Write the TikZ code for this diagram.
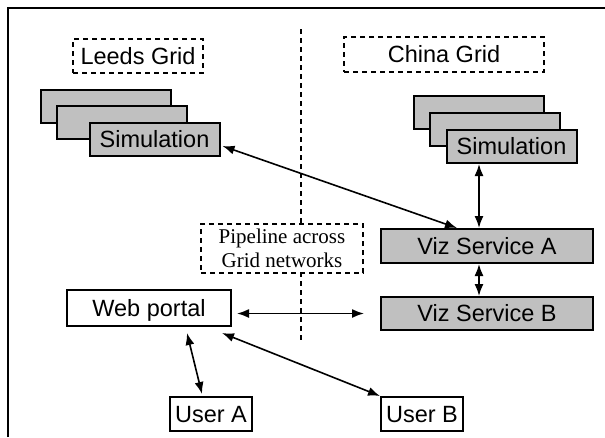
\documentclass[tikz,border=0pt]{standalone}
\usepackage{fontspec}
\setmainfont{Liberation Sans}
\newfontfamily\pipefont{Liberation Serif}
\usetikzlibrary{arrows.meta}

\definecolor{simgray}{RGB}{192,192,192}
\tikzset{
    boxtext/.style={font=\fontsize{23.5}{27}\selectfont, inner sep=0pt, text height=16.8pt, text depth=0pt},
    gridline/.style={line width=1.1pt, dash pattern=on 5pt off 4pt},
    gridlabel/.style={gridline, draw, boxtext},
    plainbox/.style={draw, line width=2pt, boxtext},
    simbox/.style={plainbox, fill=simgray, minimum width=130pt, minimum height=33pt},
    vizbox/.style={plainbox, fill=simgray, minimum width=212pt, minimum height=34pt},
}

\begin{document}
\begin{tikzpicture}[x=1pt, y=-1pt, >={Latex[length=12pt,width=9pt]}]
\useasboundingbox (0,0) rectangle (605,437);
\draw[line width=2.5pt] (8,437) -- (8,8) -- (605,8);

% dividing line between the two grids
\coordinate (divtop) at (301,29);
\coordinate (divbot) at (301,342);
\draw[gridline] (divtop) -- (divbot);
\node[gridlabel, minimum width=130pt, minimum height=34pt] (leeds) at (138,56) {Leeds Grid};
\node[gridlabel, minimum width=200pt, minimum height=35pt] (china) at (444,54.5) {China Grid};
\node[gridlabel, fill=white, minimum width=162pt, minimum height=49pt, text height=, text depth=,
      font=\pipefont\fontsize{21}{24}\selectfont, align=center] (pipe) at (282,248.5)
      {Pipeline across\\Grid networks};

% simulation stacks
\foreach \n/\x/\y in {lsim1/106/106, lsim2/122/122.5, rsim1/479/112.5, rsim2/494.5/129.5}
{
    \node[simbox] (\n) at (\x,\y) {};
}
\node[simbox] (lsim3) at (154.5,139.5) {Simulation};
\node[simbox] (rsim3) at (511.5,146.5) {Simulation};

% services, portal and users
\node[vizbox] (vizA) at (487,246) {Viz Service A};
\node[vizbox, minimum height=33pt] (vizB) at (487,313.5) {Viz Service B};
\node[plainbox, minimum width=164pt, minimum height=36pt] (portal) at (149,308) {Web portal};
\node[plainbox, minimum width=82pt, minimum height=34pt] (userA) at (211,414) {User A};
\node[plainbox, minimum width=82pt, minimum height=34pt] (userB) at (422,414) {User B};

\begin{scope}[line width=1.6pt]
    \draw[<->] ([xshift=2pt,yshift=-6.5pt]lsim3.east) -- ([xshift=-30pt]vizA.north);
    \draw[<->] ([xshift=-8pt]vizA.north) -- ([xshift=-8pt]vizA.north |- rsim3.south);
    \draw[<->] ([xshift=-8pt]vizA.south) -- ([xshift=-8pt]vizB.north);
    \draw[<->, shorten <=5pt, shorten >=16pt] (portal.east |- vizB.west) -- (vizB.west);
    \draw[<->] ([xshift=38pt,yshift=-6pt]portal.south) -- ([xshift=-9pt,yshift=2pt]userA.north);
    \draw[<->] ([xshift=-10pt,yshift=-6pt]portal.south east) -- (userB.north west);
\end{scope}
\end{tikzpicture}
\end{document}
